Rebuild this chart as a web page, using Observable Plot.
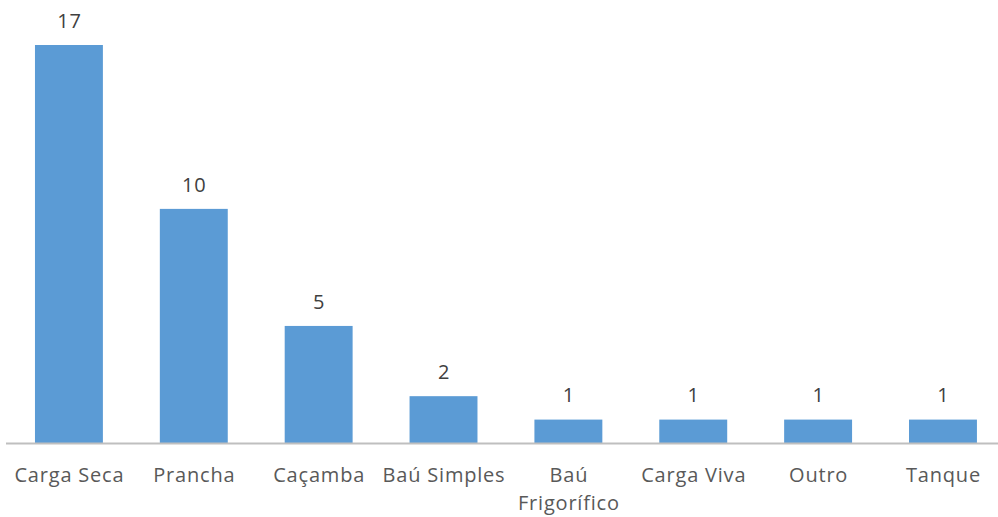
<!DOCTYPE html>
<html>
<head>
<meta charset="utf-8">
<script src="https://cdn.jsdelivr.net/npm/d3@7"></script>
<script src="https://cdn.jsdelivr.net/npm/@observablehq/plot@0.6"></script>
<style>
  html, body { margin: 0; padding: 0; background: #fff; }
  svg text { letter-spacing: 0.8px; }
</style>
</head>
<body>
<div id="chart"></div>
<script>
const categories = ["Carga Seca", "Prancha", "Caçamba", "Baú Simples", "Baú\nFrigorífico", "Carga Viva", "Outro", "Tanque"];
const values = [17, 10, 5, 2, 1, 1, 1, 1];

const data = categories.map((c, i) => ({category: c, value: values[i]}));

const chart = Plot.plot({
  width: 998,
  height: 517,
  marginLeft: 6,
  marginRight: 0,
  marginTop: 0,
  marginBottom: 0,
  style: {fontFamily: "'Open Sans', sans-serif", background: "#fff"},
  x: {domain: categories, range: [6.5, 1005.4], paddingInner: 0.456, paddingOuter: 0.228, round: false, axis: null},
  y: {domain: [0, 17], range: [443, 45], axis: null},
  marks: [
    Plot.barY(data, {x: "category", y: "value", fill: "#5B9BD5"}),
    Plot.ruleY([0], {stroke: "#BFBFBF", strokeWidth: 2}),
    Plot.text(data, {x: "category", y: "value", text: d => String(d.value), dy: -24, fontSize: 20, fill: "#404040", lineAnchor: "middle"}),
    Plot.text(data, {x: "category", y: () => 0, text: "category", dy: 19, fontSize: 20, fill: "#595959", lineAnchor: "top", lineHeight: 1.4})
  ]
});
document.getElementById("chart").appendChild(chart);
</script>
</body>
</html>
